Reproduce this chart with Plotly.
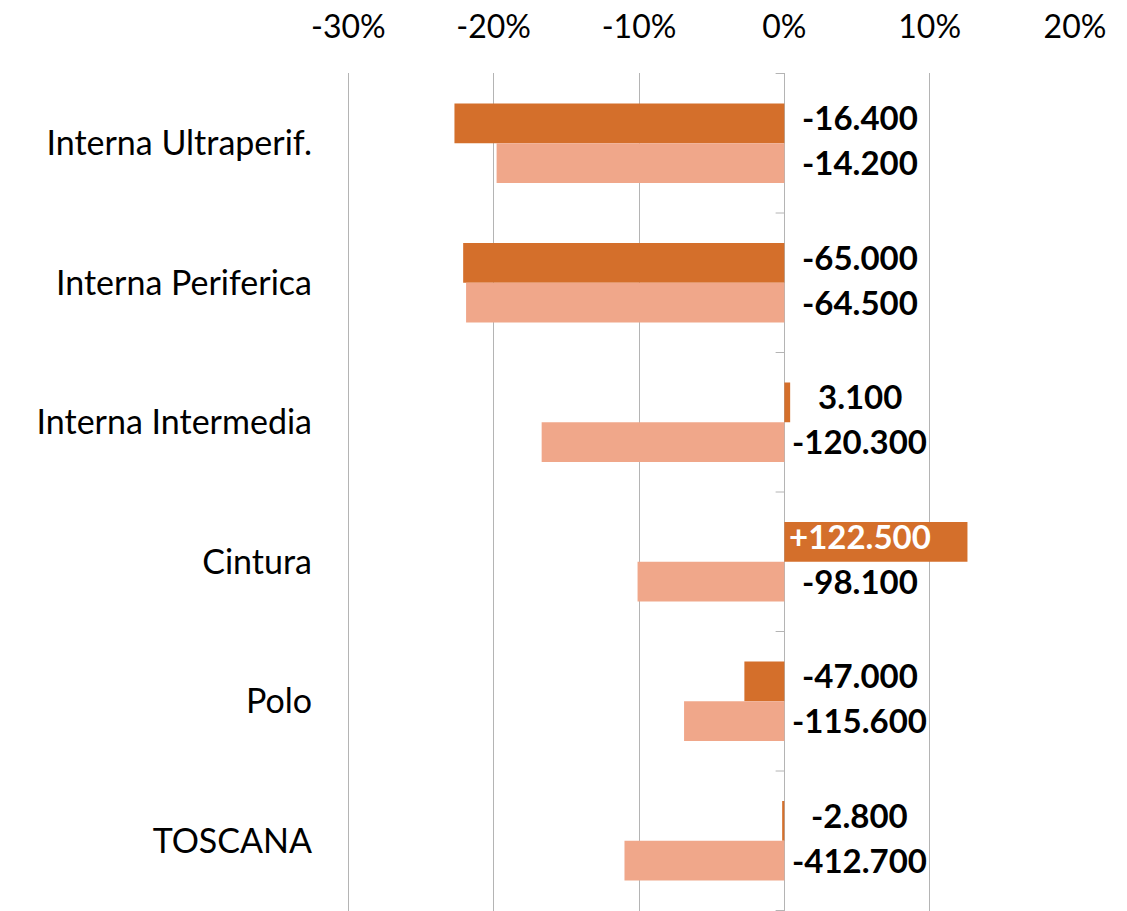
import plotly.graph_objects as go

categories = ["Interna Ultraperif.", "Interna Periferica", "Interna Intermedia",
              "Cintura", "Polo", "TOSCANA"]
series_a_pct = [-22.7, -22.1, 0.4, 12.6, -2.75, -0.15]
series_b_pct = [-19.8, -21.9, -16.7, -10.1, -6.9, -11.0]
series_a_labels = ["-16.400", "-65.000", "3.100", "+122.500", "-47.000", "-2.800"]
series_b_labels = ["-14.200", "-64.500", "-120.300", "-98.100", "-115.600", "-412.700"]
tick_values = [-30, -20, -10, 0, 10, 20]

DARK = "#D46F2B"
LIGHT = "#F0A78A"
GRID = "#B4B4B4"
FONT = "Lato"

fig = go.Figure()
fig.add_trace(go.Bar(y=categories, x=series_a_pct, orientation="h",
                     marker=dict(color=DARK, line=dict(width=0)), name="A"))
fig.add_trace(go.Bar(y=categories, x=series_b_pct, orientation="h",
                     marker=dict(color=LIGHT, line=dict(width=0)), name="B"))

half = 0.143
label_x = 5.2
annotations = []
for i, cat in enumerate(categories):
    va = series_a_pct[i]
    annotations.append(dict(
        x=label_x, y=i - half, xref="x", yref="y", text="<b>%s</b>" % series_a_labels[i],
        showarrow=False, xanchor="center", yanchor="middle", yshift=6,
        font=dict(family=FONT, size=33, color="white" if va > label_x else "black")))
    annotations.append(dict(
        x=label_x, y=i + half, xref="x", yref="y", text="<b>%s</b>" % series_b_labels[i],
        showarrow=False, xanchor="center", yanchor="middle", yshift=1,
        font=dict(family=FONT, size=33, color="black")))

shapes = []
for k in range(len(categories) + 1):
    shapes.append(dict(type="line", xref="x", yref="y", x0=-0.6, x1=0,
                       y0=k - 0.5, y1=k - 0.5, line=dict(color=GRID, width=1)))

fig.update_layout(
    width=1127, height=911,
    margin=dict(l=344, r=52, t=73, b=0),
    plot_bgcolor="white", paper_bgcolor="white",
    barmode="group", bargap=0.43, bargroupgap=0,
    showlegend=False,
    font=dict(family=FONT, color="black"),
    annotations=annotations, shapes=shapes,
    xaxis=dict(side="top", range=[-30.3, 20], tickvals=tick_values,
               ticktext=["%d%%" % v for v in tick_values],
               showgrid=True, gridcolor=GRID, gridwidth=1,
               zeroline=True, zerolinecolor=GRID, zerolinewidth=1,
               showline=False, ticks="", ticklabelstandoff=28, automargin=False,
               tickfont=dict(family=FONT, size=32, color="black")),
    yaxis=dict(autorange="reversed", showgrid=False, zeroline=False, showline=False,
               ticks="", ticklabelstandoff=31, automargin=False,
               tickfont=dict(family=FONT, size=34, color="black")),
)

fig.write_html("out.html", config={"displayModeBar": False},
               post_script="document.body.style.margin='0';")
